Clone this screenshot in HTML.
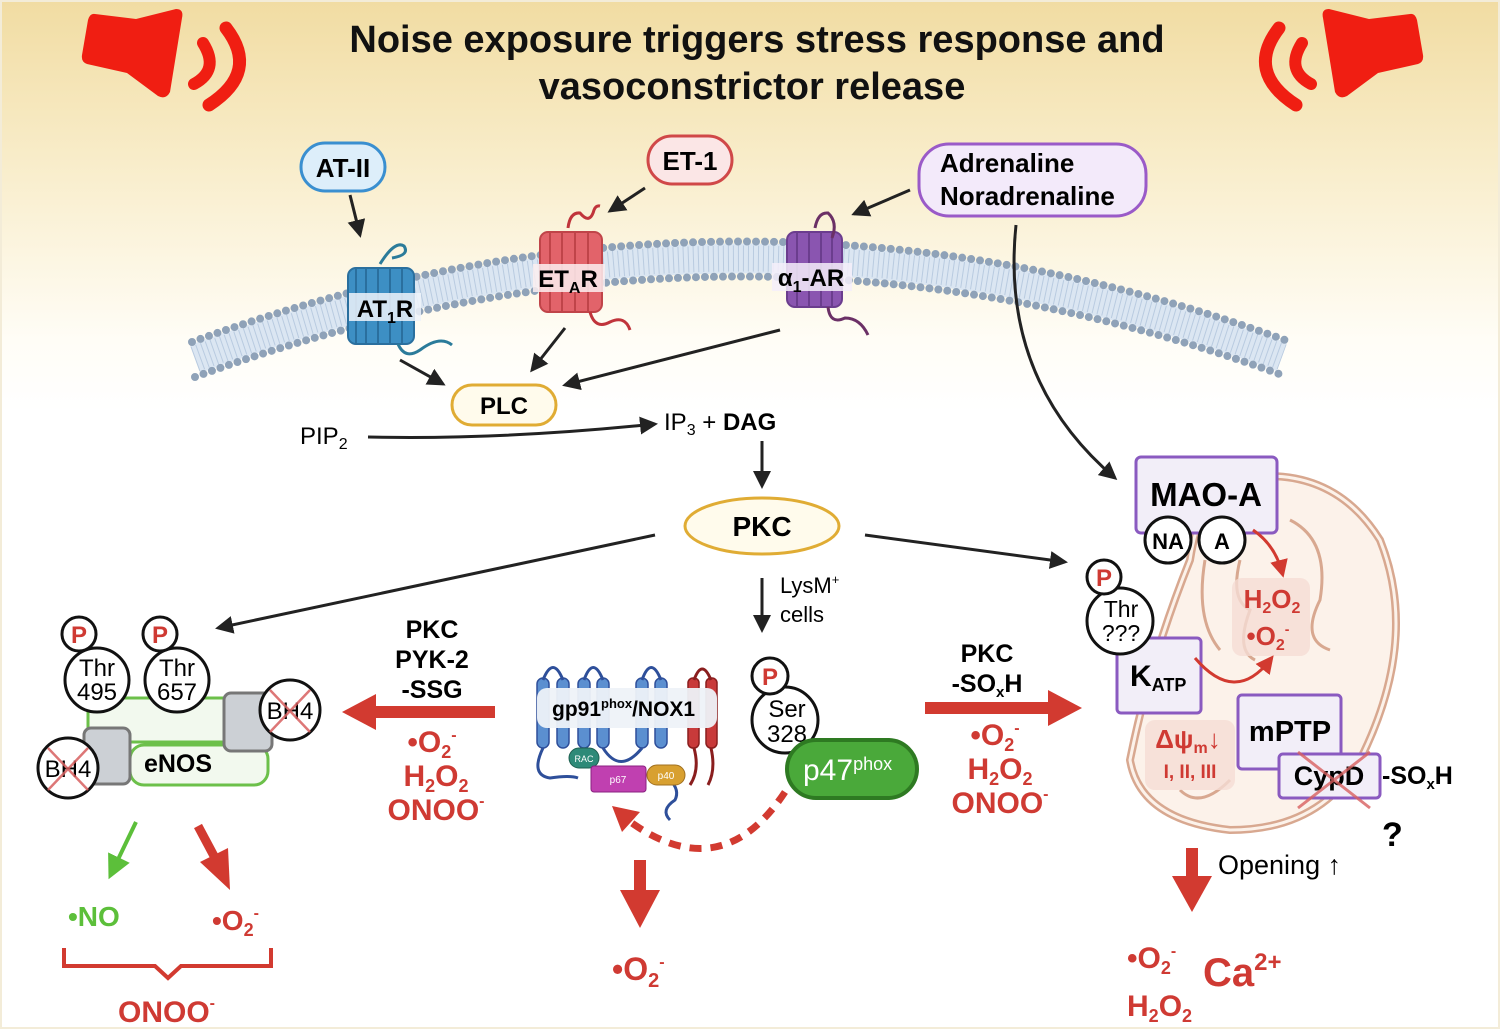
<!DOCTYPE html>
<html><head><meta charset="utf-8"><style>
html,body{margin:0;padding:0;background:#fff}
svg{display:block}
text{font-family:"Liberation Sans",sans-serif}
.b{font-weight:bold}
.r{fill:#cf3a33}
</style></head><body>
<svg width="1500" height="1029" viewBox="0 0 1500 1029" xmlns="http://www.w3.org/2000/svg">
<defs>
<linearGradient id="bg" x1="0" y1="0" x2="0" y2="1">
<stop offset="0" stop-color="#f1dca2"/><stop offset="0.15" stop-color="#f8ecc8"/><stop offset="0.33" stop-color="#fffdf6"/><stop offset="0.4" stop-color="#ffffff"/><stop offset="1" stop-color="#ffffff"/>
</linearGradient>
<marker id="ahs" markerWidth="6" markerHeight="6" refX="5" refY="3" orient="auto" markerUnits="strokeWidth"><path d="M0,0 L6,3 L0,6 z" fill="#222"/></marker>
<marker id="ahr" markerWidth="6" markerHeight="6" refX="4" refY="3" orient="auto" markerUnits="strokeWidth"><path d="M0,0 L6,3 L0,6 z" fill="#d23a30"/></marker>
<marker id="ahg" markerWidth="6" markerHeight="6" refX="4" refY="3" orient="auto" markerUnits="strokeWidth"><path d="M0,0 L6,3 L0,6 z" fill="#5cbf3a"/></marker>
</defs>
<rect x="0" y="0" width="1500" height="1029" fill="url(#bg)"/>
<rect x="1" y="1" width="1498" height="1027" fill="none" stroke="#f3ecd8" stroke-width="2"/>

<g id="spk" fill="#f01e12">
<path d="M95,14 L136,19 L176,9 Q184,9 182,18 L170,92 Q166,100 158,96 L127,73 L87,64 Q81,62 82,55 L88,20 Q90,13 95,14 z"/>
<path d="M203,43 Q220,70 194,84" fill="none" stroke="#f01e12" stroke-width="12" stroke-linecap="round"/>
<path d="M226,28 Q260,72 209,105" fill="none" stroke="#f01e12" stroke-width="13" stroke-linecap="round"/>
</g>
<use href="#spk" transform="translate(1505,0) scale(-1,1)"/>

<text x="757" y="52" text-anchor="middle" class="b" font-size="38" fill="#111">Noise exposure triggers stress response and</text>
<text x="752" y="99" text-anchor="middle" class="b" font-size="38" fill="#111">vasoconstrictor release</text>

<path d="M195,359 Q740,159 1282,357" fill="none" stroke="#dbe6f2" stroke-width="30"/>
<path d="M195,359 Q740,159 1282,357" fill="none" stroke="#b9cbe0" stroke-width="26" stroke-dasharray="1 4"/>
<path d="M192,342 Q740,142 1285,340" fill="none" stroke="#8fa2b8" stroke-width="8" stroke-dasharray="0 9" stroke-linecap="round"/>
<path d="M195,377 Q740,177 1282,375" fill="none" stroke="#8fa2b8" stroke-width="8" stroke-dasharray="0 9" stroke-linecap="round"/>

<g>
<rect x="348" y="268" width="66" height="76" rx="8" fill="#3d8fc4" stroke="#2a6f9e" stroke-width="2"/>
<path d="M356,268 v76 M366,268 v76 M378,268 v76 M390,268 v76 M402,268 v76" stroke="#2a6f9e" stroke-width="2"/>
<path d="M380,264 Q395,240 404,246 Q410,255 392,258" fill="none" stroke="#2b7b9a" stroke-width="3"/>
<path d="M398,344 Q405,360 420,350 Q440,335 452,345" fill="none" stroke="#2b7b9a" stroke-width="3"/>
<rect x="349" y="293" width="72" height="28" fill="#eef3fa" opacity="0.85"/>
<text x="385" y="317" text-anchor="middle" class="b" font-size="24">AT<tspan font-size="16" dy="6">1</tspan><tspan dy="-6">R</tspan></text>
</g>
<g>
<rect x="540" y="232" width="62" height="80" rx="8" fill="#e2636a" stroke="#c04449" stroke-width="2"/>
<path d="M550,232 v80 M562,232 v80 M575,232 v80 M588,232 v80" stroke="#c04449" stroke-width="2"/>
<path d="M568,228 Q570,212 580,213 Q590,225 594,210 Q596,205 600,206" fill="none" stroke="#c0343b" stroke-width="3"/>
<path d="M590,312 Q595,330 610,322 Q625,315 630,330" fill="none" stroke="#c0343b" stroke-width="3"/>
<rect x="533" y="264" width="72" height="28" fill="#fbeff0" opacity="0.85"/>
<text x="568" y="287" text-anchor="middle" class="b" font-size="24">ET<tspan font-size="16" dy="6">A</tspan><tspan dy="-6">R</tspan></text>
</g>
<g>
<rect x="787" y="232" width="55" height="75" rx="8" fill="#8a55b0" stroke="#6b3d8e" stroke-width="2"/>
<path d="M797,232 v75 M809,232 v75 M821,232 v75 M832,232 v75" stroke="#6b3d8e" stroke-width="2"/>
<path d="M815,228 Q818,212 828,213 Q838,222 832,238" fill="none" stroke="#6b3066" stroke-width="3"/>
<path d="M828,307 Q830,325 845,318 Q860,318 868,335" fill="none" stroke="#6b3066" stroke-width="3"/>
<rect x="772" y="263" width="80" height="28" fill="#f4eefa" opacity="0.85"/>
<text x="811" y="286" text-anchor="middle" class="b" font-size="24">α<tspan font-size="16" dy="6">1</tspan><tspan dy="-6">-AR</tspan></text>
</g>

<rect x="301" y="143" width="84" height="48" rx="24" fill="#ddeefa" stroke="#3a8fd0" stroke-width="3"/>
<text x="343" y="177" text-anchor="middle" class="b" font-size="26">AT-II</text>
<rect x="648" y="136" width="84" height="48" rx="24" fill="#fbe6e6" stroke="#d04848" stroke-width="3"/>
<text x="690" y="170" text-anchor="middle" class="b" font-size="26">ET-1</text>
<rect x="919" y="144" width="227" height="72" rx="30" fill="#f3eafa" stroke="#9a5ac8" stroke-width="3"/>
<text x="940" y="172" class="b" font-size="26">Adrenaline</text>
<text x="940" y="205" class="b" font-size="26">Noradrenaline</text>

<g stroke="#222" stroke-width="3" fill="none" marker-end="url(#ahs)">
<path d="M350,195 L360,235"/>
<path d="M645,188 L610,211"/>
<path d="M910,190 L854,214"/>
<path d="M400,360 L443,384"/>
<path d="M565,328 L532,370"/>
<path d="M780,330 L565,385"/>
<path d="M368,437 Q500,440 655,424"/>
<path d="M762,441 L762,486"/>
<path d="M1016,225 Q1000,380 1115,478"/>
<path d="M655,535 L218,628"/>
<path d="M865,535 L1065,562"/>
<path d="M762,578 L762,630"/>
</g>

<rect x="452" y="385" width="104" height="40" rx="20" fill="#fffbec" stroke="#e0ac34" stroke-width="3"/>
<text x="504" y="414" text-anchor="middle" class="b" font-size="24">PLC</text>
<text x="300" y="444" font-size="24">PIP<tspan font-size="16" dy="5">2</tspan></text>
<text x="664" y="430" font-size="24">IP<tspan font-size="16" dy="5">3</tspan><tspan dy="-5"> + </tspan><tspan class="b">DAG</tspan></text>
<ellipse cx="762" cy="526" rx="77" ry="28" fill="#fffbec" stroke="#e0ac34" stroke-width="3"/>
<text x="762" y="536" text-anchor="middle" class="b" font-size="28">PKC</text>
<text x="780" y="593" font-size="22">LysM<tspan font-size="13" dy="-9">+</tspan></text>
<text x="780" y="622" font-size="22">cells</text>

<rect x="88" y="698" width="180" height="44" rx="14" fill="#f2f9ee" stroke="#6cc04a" stroke-width="3"/>
<rect x="130" y="745" width="138" height="40" rx="14" fill="#f2f9ee" stroke="#6cc04a" stroke-width="3"/>
<rect x="84" y="728" width="46" height="56" rx="7" fill="#ccd0d5" stroke="#777" stroke-width="3"/>
<rect x="224" y="693" width="48" height="58" rx="7" fill="#ccd0d5" stroke="#777" stroke-width="3"/>
<text x="178" y="772" text-anchor="middle" class="b" font-size="25">eNOS</text>
<g stroke="#111" stroke-width="3">
<circle cx="97" cy="680" r="32" fill="#fff"/><circle cx="79" cy="634" r="17" fill="#fff"/>
<circle cx="177" cy="680" r="32" fill="#fff"/><circle cx="160" cy="634" r="17" fill="#fff"/>
<circle cx="68" cy="768" r="30" fill="#fff"/><circle cx="290" cy="710" r="30" fill="#fff"/>
</g>
<text x="79" y="643" text-anchor="middle" class="b r" font-size="24">P</text>
<text x="160" y="643" text-anchor="middle" class="b r" font-size="24">P</text>
<text x="97" y="676" text-anchor="middle" font-size="24">Thr</text><text x="97" y="700" text-anchor="middle" font-size="24">495</text>
<text x="177" y="676" text-anchor="middle" font-size="24">Thr</text><text x="177" y="700" text-anchor="middle" font-size="24">657</text>
<text x="68" y="777" text-anchor="middle" font-size="24">BH4</text>
<text x="290" y="719" text-anchor="middle" font-size="24">BH4</text>
<g stroke="#d86060" stroke-width="2.5" opacity="0.85">
<path d="M48,748 L88,790 M88,748 L48,790"/><path d="M270,690 L310,732 M310,690 L270,732"/>
</g>
<path d="M136,822 L112,872" stroke="#5cbf3a" stroke-width="4" fill="none" marker-end="url(#ahg)"/>
<path d="M198,826 L214,856" stroke="#d23a30" stroke-width="9" fill="none"/>
<path d="M230,890 L200,862 L228,848 z" fill="#d23a30"/>
<text x="68" y="926" class="b" font-size="28" fill="#5cbf3a">•NO</text>
<text x="212" y="930" class="b r" font-size="28">•O<tspan font-size="18" dy="6">2</tspan><tspan font-size="16" dy="-18">-</tspan></text>
<path d="M64,948 L64,966 L155,966 L168,978 L181,966 L271,966 L271,948" fill="none" stroke="#d23a30" stroke-width="4"/>
<text x="118" y="1022" class="b r" font-size="30">ONOO<tspan font-size="16" dy="-14">-</tspan></text>

<path d="M495,712 L370,712" stroke="#d23a30" stroke-width="12" fill="none"/>
<path d="M342,712 L376,694 L376,730 z" fill="#d23a30"/>
<text x="432" y="638" text-anchor="middle" class="b" font-size="25">PKC</text>
<text x="432" y="668" text-anchor="middle" class="b" font-size="25">PYK-2</text>
<text x="432" y="698" text-anchor="middle" class="b" font-size="25">-SSG</text>
<text x="432" y="752" text-anchor="middle" class="b r" font-size="30">•O<tspan font-size="18" dy="6">2</tspan><tspan font-size="16" dy="-18">-</tspan></text>
<text x="436" y="786" text-anchor="middle" class="b r" font-size="30">H<tspan font-size="18" dy="6">2</tspan><tspan dy="-6">O</tspan><tspan font-size="18" dy="6">2</tspan></text>
<text x="436" y="820" text-anchor="middle" class="b r" font-size="30">ONOO<tspan font-size="16" dy="-14">-</tspan></text>

<path d="M925,708 L1055,708" stroke="#d23a30" stroke-width="12" fill="none"/>
<path d="M1082,708 L1048,690 L1048,726 z" fill="#d23a30"/>
<text x="987" y="662" text-anchor="middle" class="b" font-size="25">PKC</text>
<text x="987" y="692" text-anchor="middle" class="b" font-size="25">-SO<tspan font-size="15" dy="5">x</tspan><tspan dy="-5">H</tspan></text>
<text x="995" y="745" text-anchor="middle" class="b r" font-size="30">•O<tspan font-size="18" dy="6">2</tspan><tspan font-size="16" dy="-18">-</tspan></text>
<text x="1000" y="779" text-anchor="middle" class="b r" font-size="30">H<tspan font-size="18" dy="6">2</tspan><tspan dy="-6">O</tspan><tspan font-size="18" dy="6">2</tspan></text>
<text x="1000" y="813" text-anchor="middle" class="b r" font-size="30">ONOO<tspan font-size="16" dy="-14">-</tspan></text>

<g fill="#5b8fd0" stroke="#2e4f9a" stroke-width="1.5">
<rect x="537" y="678" width="12" height="70" rx="6"/><rect x="557" y="678" width="12" height="70" rx="6"/>
<rect x="578" y="678" width="12" height="70" rx="6"/><rect x="597" y="678" width="12" height="70" rx="6"/>
<rect x="636" y="678" width="12" height="70" rx="6"/><rect x="655" y="678" width="12" height="70" rx="6"/>
</g>
<g fill="none" stroke="#2e4f9a" stroke-width="3">
<path d="M543,680 Q553,655 563,680"/><path d="M584,680 Q593,655 603,680"/><path d="M642,680 Q651,655 661,680"/>
<path d="M603,748 Q620,775 642,748"/><path d="M543,748 Q530,775 550,778 Q570,775 578,778"/>
<path d="M670,780 Q680,790 675,800 Q660,810 670,820"/>
</g>
<g fill="#c83a3a" stroke="#8a1e1e" stroke-width="1.5">
<rect x="688" y="678" width="11" height="70" rx="5"/><rect x="706" y="678" width="11" height="70" rx="5"/>
</g>
<path d="M694,680 Q702,658 711,680" fill="none" stroke="#8a1e1e" stroke-width="3"/>
<path d="M694,748 Q700,770 690,785 M711,748 Q716,770 708,785" fill="none" stroke="#8a1e1e" stroke-width="3"/>
<rect x="537" y="688" width="180" height="40" rx="10" fill="#eef2f8" opacity="0.95"/>
<text x="552" y="716" class="b" font-size="21">gp91<tspan font-size="13" dy="-8">phox</tspan><tspan dy="8">/NOX1</tspan></text>
<rect x="569" y="748" width="30" height="20" rx="10" fill="#2e8a78" stroke="#1e6050"/>
<text x="584" y="762" text-anchor="middle" font-size="9" fill="#fff">RAC</text>
<rect x="591" y="766" width="55" height="26" rx="3" fill="#c040b0" stroke="#8a2080"/>
<text x="618" y="783" text-anchor="middle" font-size="10" fill="#fff">p67</text>
<rect x="647" y="765" width="38" height="20" rx="10" fill="#d8a030" stroke="#a07020"/>
<text x="666" y="779" text-anchor="middle" font-size="10" fill="#fff">p40</text>
<circle cx="785" cy="720" r="33" fill="#fff" stroke="#111" stroke-width="3"/>
<circle cx="770" cy="676" r="18" fill="#fff" stroke="#111" stroke-width="3"/>
<text x="770" y="685" text-anchor="middle" class="b r" font-size="24">P</text>
<text x="787" y="717" text-anchor="middle" font-size="24">Ser</text><text x="787" y="742" text-anchor="middle" font-size="24">328</text>
<rect x="787" y="740" width="130" height="58" rx="29" fill="#4aa93a" stroke="#2e7a22" stroke-width="4"/>
<text x="803" y="780" font-size="30" fill="#fff">p47<tspan font-size="18" dy="-10">phox</tspan></text>
<path d="M785,792 Q720,890 625,818" fill="none" stroke="#d23a30" stroke-width="7" stroke-dasharray="12 9"/>
<path d="M612,806 L640,812 L622,832 z" fill="#d23a30"/>
<path d="M640,860 L640,895" stroke="#d23a30" stroke-width="12"/>
<path d="M620,890 L660,890 L640,928 z" fill="#d23a30"/>
<text x="612" y="980" class="b r" font-size="32">•O<tspan font-size="20" dy="7">2</tspan><tspan font-size="16" dy="-20">-</tspan></text>

<path d="M1230,480 Q1330,460 1380,540 Q1420,640 1360,760 Q1320,830 1230,830 Q1140,820 1130,760 Q1150,660 1190,560 Q1200,495 1230,480 z" fill="#fcf2ea" stroke="#d8a890" stroke-width="8"/>
<path d="M1230,480 Q1330,460 1380,540 Q1420,640 1360,760 Q1320,830 1230,830 Q1140,820 1130,760 Q1150,660 1190,560 Q1200,495 1230,480 z" fill="none" stroke="#fcf2ea" stroke-width="3"/>
<path d="M1205,560 Q1195,620 1220,650 M1290,520 Q1330,540 1320,600 Q1300,640 1330,650 M1240,560 Q1230,600 1250,610 Q1235,650 1255,660 M1180,790 Q1200,810 1230,780" fill="none" stroke="#d8a890" stroke-width="3"/>
<rect x="1232" y="578" width="78" height="78" rx="10" fill="#f5dcd4" opacity="0.8"/>
<rect x="1145" y="720" width="90" height="70" rx="10" fill="#f5dcd4" opacity="0.8"/>
<text x="1272" y="608" text-anchor="middle" class="b r" font-size="26">H<tspan font-size="16" dy="5">2</tspan><tspan dy="-5">O</tspan><tspan font-size="16" dy="5">2</tspan></text>
<text x="1268" y="645" text-anchor="middle" class="b r" font-size="26">•O<tspan font-size="16" dy="5">2</tspan><tspan font-size="14" dy="-16">-</tspan></text>
<text x="1188" y="748" text-anchor="middle" class="b r" font-size="26">Δψ<tspan font-size="16" dy="5">m</tspan><tspan dy="-5">↓</tspan></text>
<text x="1190" y="778" text-anchor="middle" class="b r" font-size="19">I, II, III</text>

<rect x="1136" y="457" width="141" height="76" rx="5" fill="#f2eef8" stroke="#8a5ac0" stroke-width="3"/>
<text x="1206" y="506" text-anchor="middle" class="b" font-size="33">MAO-A</text>
<circle cx="1168" cy="540" r="23" fill="#fff" stroke="#111" stroke-width="3"/>
<circle cx="1222" cy="540" r="23" fill="#fff" stroke="#111" stroke-width="3"/>
<text x="1168" y="549" text-anchor="middle" class="b" font-size="22">NA</text>
<text x="1222" y="549" text-anchor="middle" class="b" font-size="22">A</text>
<path d="M1253,530 Q1275,545 1282,572" fill="none" stroke="#d23a30" stroke-width="3" marker-end="url(#ahr)"/>

<rect x="1117" y="638" width="84" height="75" rx="4" fill="#f2eef8" stroke="#8a5ac0" stroke-width="3"/>
<text x="1130" y="686" class="b" font-size="30">K<tspan font-size="18" dy="5">ATP</tspan></text>
<circle cx="1120" cy="621" r="33" fill="#fff" stroke="#111" stroke-width="3"/>
<circle cx="1104" cy="577" r="17" fill="#fff" stroke="#111" stroke-width="3"/>
<text x="1104" y="586" text-anchor="middle" class="b r" font-size="24">P</text>
<text x="1121" y="617" text-anchor="middle" font-size="23">Thr</text><text x="1121" y="641" text-anchor="middle" font-size="23">???</text>
<path d="M1195,658 Q1235,705 1270,660" fill="none" stroke="#d23a30" stroke-width="3" marker-end="url(#ahr)"/>

<rect x="1238" y="695" width="103" height="74" rx="4" fill="#f2eef8" stroke="#8a5ac0" stroke-width="3"/>
<text x="1290" y="741" text-anchor="middle" class="b" font-size="29">mPTP</text>
<rect x="1279" y="754" width="101" height="44" rx="4" fill="#f2eef8" stroke="#8a5ac0" stroke-width="3"/>
<text x="1329" y="785" text-anchor="middle" class="b" font-size="27">CypD</text>
<path d="M1298,752 L1370,808 M1370,752 L1298,808" stroke="#d86060" stroke-width="3" opacity="0.8"/>
<text x="1382" y="784" class="b" font-size="25">-SO<tspan font-size="15" dy="5">x</tspan><tspan dy="-5">H</tspan></text>
<text x="1382" y="846" class="b" font-size="34">?</text>

<path d="M1192,848 L1192,880" stroke="#d23a30" stroke-width="12"/>
<path d="M1172,876 L1212,876 L1192,912 z" fill="#d23a30"/>
<text x="1218" y="874" font-size="27">Opening ↑</text>
<text x="1127" y="968" class="b r" font-size="30">•O<tspan font-size="18" dy="6">2</tspan><tspan font-size="16" dy="-18">-</tspan></text>
<text x="1203" y="986" class="b r" font-size="40">Ca<tspan font-size="24" dy="-16">2+</tspan></text>
<text x="1127" y="1016" class="b r" font-size="30">H<tspan font-size="18" dy="6">2</tspan><tspan dy="-6">O</tspan><tspan font-size="18" dy="6">2</tspan></text>
</svg>
</body></html>
